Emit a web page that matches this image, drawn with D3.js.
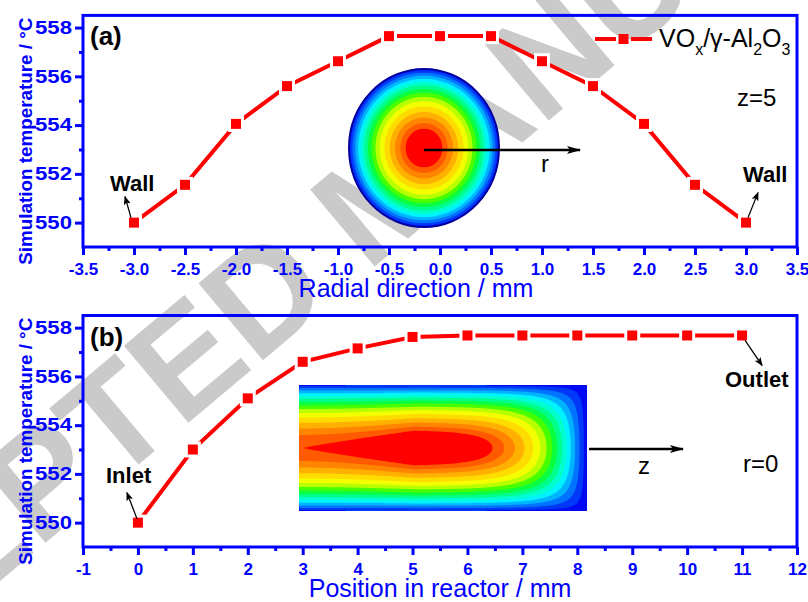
<!DOCTYPE html>
<html>
<head>
<meta charset="utf-8">
<script src="https://cdn.jsdelivr.net/npm/d3@7"></script>
<style>
  body { margin: 0; background: #fff; }
  svg { display: block; font-family: Arial, "Liberation Sans", sans-serif; }
</style>
</head>
<body>
<div id="chart"></div>
<script>
// data
var radialPos = [-3, -2.5, -2, -1.5, -1, -0.5, 0, 0.5, 1, 1.5, 2, 2.5, 3];
var radialTemp = [550.0, 551.55, 554.05, 555.6, 556.62, 557.65, 557.65, 557.65, 556.62, 555.6, 554.05, 551.55, 550.0];
var axialPos = [0, 1, 2, 3, 4, 5, 6, 7, 8, 9, 10, 11];
var axialTemp = [550.0, 553.0, 555.1, 556.6, 557.15, 557.62, 557.68, 557.68, 557.68, 557.68, 557.68, 557.68];

var tempTicks = [550, 552, 554, 556, 558];
var tempMinor = [551, 553, 555, 557];
var radialTicks = [-3.5, -3, -2.5, -2, -1.5, -1, -0.5, 0, 0.5, 1, 1.5, 2, 2.5, 3, 3.5];
var radialMinor = [-3.25, -2.75, -2.25, -1.75, -1.25, -0.75, -0.25, 0.25, 0.75, 1.25, 1.75, 2.25, 2.75, 3.25];
var axialTicks = [-1, 0, 1, 2, 3, 4, 5, 6, 7, 8, 9, 10, 11, 12];
var axialMinor = [-0.5, 0.5, 1.5, 2.5, 3.5, 4.5, 5.5, 6.5, 7.5, 8.5, 9.5, 10.5, 11.5];

// contour levels for the temperature-field insets
var fieldLevels = [0.03, 0.09, 0.16, 0.23, 0.3, 0.37, 0.44, 0.51, 0.58, 0.65, 0.72, 0.79, 0.85, 0.9, 0.94];

var blue = "#0000ff", red = "#ff0000";
var W = 808, H = 602;

var svg = d3.select("#chart").append("svg")
    .attr("width", W)
    .attr("height", H);

svg.append("rect").attr("width", W).attr("height", H).attr("fill", "#fff");

// arrow heads
var defs = svg.append("defs");
defs.append("marker").attr("id", "bigHead")
    .attr("viewBox", "0 0 14 10").attr("refX", 13).attr("refY", 5)
    .attr("markerWidth", 14).attr("markerHeight", 10)
    .attr("markerUnits", "userSpaceOnUse").attr("orient", "auto")
    .append("path").attr("d", "M0,1 L14,5 L0,9 L3,5 Z").attr("fill", "#000");
defs.append("marker").attr("id", "smallHead")
    .attr("viewBox", "0 0 9 7").attr("refX", 8).attr("refY", 3.5)
    .attr("markerWidth", 9).attr("markerHeight", 7)
    .attr("markerUnits", "userSpaceOnUse").attr("orient", "auto")
    .append("path").attr("d", "M0,0 L9,3.5 L0,7 L2,3.5 Z").attr("fill", "#000");

// watermark (behind everything)
svg.append("text")
    .attr("transform", "translate(417,231) rotate(-40)")
    .attr("text-anchor", "middle")
    .attr("font-size", 146)
    .attr("font-weight", "bold")
    .attr("fill", "#cacaca")
    .text("ACCEPTED MANUSCRIPT");

// jet-like colour ramp for the field insets
var jet = d3.scaleLinear()
    .domain([0, 0.12, 0.28, 0.45, 0.52, 0.62, 0.7, 0.8, 0.88, 0.93, 0.95])
    .range(["#0000f0", "#0070ff", "#00ffff", "#00ff60", "#20ff00", "#c0ff00", "#ffff00", "#ffc000", "#ff8000", "#ff5000", "#ff0000"]);

function drawPanel(cfg) {
    var x = d3.scaleLinear().domain(cfg.xDomain).range([83, 797]);
    var y = d3.scaleLinear().domain([549, 558.5]).range([cfg.bottom, cfg.top]);
    var g = svg.append("g");

    // axes
    var yAx = g.append("g").attr("transform", "translate(83,0)")
        .call(d3.axisLeft(y).tickValues(tempTicks).tickSize(8).tickPadding(3));
    g.append("g").attr("transform", "translate(83,0)")
        .call(d3.axisLeft(y).tickValues(tempMinor).tickSize(4).tickFormat(""));
    var xAx = g.append("g").attr("transform", "translate(0," + cfg.bottom + ")")
        .call(d3.axisBottom(x).tickValues(cfg.xTicks).tickSize(8).tickPadding(8).tickFormat(cfg.xFormat));
    g.append("g").attr("transform", "translate(0," + cfg.bottom + ")")
        .call(d3.axisBottom(x).tickValues(cfg.xMinor).tickSize(4).tickFormat(""));

    g.selectAll(".domain").remove();
    g.selectAll(".tick line").attr("stroke", blue).attr("stroke-width", 3);
    yAx.selectAll("text")
        .attr("fill", blue).attr("font-size", 18).attr("font-weight", "bold")
        .attr("font-family", "Arial, 'Liberation Sans', sans-serif")
        .attr("textLength", 37).attr("lengthAdjust", "spacingAndGlyphs");
    xAx.selectAll("text")
        .attr("fill", blue).attr("font-size", 17).attr("font-weight", "bold")
        .attr("font-family", "Arial, 'Liberation Sans', sans-serif");

    g.append("rect")
        .attr("x", 83).attr("y", cfg.top)
        .attr("width", 797 - 83).attr("height", cfg.bottom - cfg.top)
        .attr("fill", "none").attr("stroke", blue).attr("stroke-width", 3);

    // axis titles
    g.append("text")
        .attr("transform", "translate(32," + ((cfg.top + cfg.bottom) / 2 + 10) + ") rotate(-90)")
        .attr("text-anchor", "middle")
        .attr("font-size", 19).attr("font-weight", "bold").attr("fill", blue)
        .attr("textLength", 247).attr("lengthAdjust", "spacingAndGlyphs")
        .text("Simulation temperature / \u00B0C");
    g.append("text")
        .attr("x", cfg.titleX).attr("y", cfg.bottom + 50)
        .attr("text-anchor", "middle")
        .attr("font-size", 25).attr("fill", blue)
        .text(cfg.title);

    g.append("text")
        .attr("x", 90).attr("y", cfg.top + 30)
        .attr("font-size", 26).attr("font-weight", "bold")
        .text(cfg.label);

    return {g: g, x: x, y: y};
}

function drawSeries(p, xs, ys) {
    var pts = xs.map(function(d, i) { return [p.x(d), p.y(ys[i])]; });
    p.g.append("path")
        .attr("d", d3.line()(pts))
        .attr("fill", "none").attr("stroke", red).attr("stroke-width", 4);
    p.g.selectAll(null).data(pts).enter().append("rect")
        .attr("x", function(d) { return d[0] - 8; })
        .attr("y", function(d) { return d[1] - 8; })
        .attr("width", 16).attr("height", 16).attr("fill", "#fff");
    p.g.selectAll(null).data(pts).enter().append("rect")
        .attr("x", function(d) { return d[0] - 5; })
        .attr("y", function(d) { return d[1] - 5; })
        .attr("width", 10).attr("height", 10).attr("fill", red);
}

function note(p, txt, tx, ty, px, py, ax, ay) {
    p.g.append("line")
        .attr("x1", px).attr("y1", py).attr("x2", ax).attr("y2", ay)
        .attr("stroke", "#000").attr("stroke-width", 1.3)
        .attr("marker-end", "url(#smallHead)");
    p.g.append("text").attr("x", tx).attr("y", ty)
        .attr("font-size", 22).attr("font-weight", "bold").text(txt);
}

// ---- panel (a): radial profile ----
var pa = drawPanel({
    top: 15.4, bottom: 247, xDomain: [-3.5, 3.5],
    xTicks: radialTicks, xMinor: radialMinor,
    xFormat: function(d) { return d.toFixed(1); },
    title: "Radial direction / mm", titleX: 416, label: "(a)"
});

// circular cross-section inset
var cx = 424, cy = 148, rx = 75, ry = 79;
var disc = pa.g.append("g");
disc.append("ellipse").attr("cx", cx).attr("cy", cy).attr("rx", rx).attr("ry", ry)
    .attr("fill", jet(0.01)).attr("stroke", "#0000a0").attr("stroke-width", 2);
fieldLevels.forEach(function(lv, i) {
    var next = i < fieldLevels.length - 1 ? fieldLevels[i + 1] : 1;
    var r = Math.sqrt(1 - lv);
    disc.append("ellipse").attr("cx", cx).attr("cy", cy)
        .attr("rx", rx * r).attr("ry", ry * r)
        .attr("fill", jet((lv + next) / 2));
});
pa.g.append("line")
    .attr("x1", cx).attr("y1", cy + 2).attr("x2", 580).attr("y2", cy + 2)
    .attr("stroke", "#000").attr("stroke-width", 2.5)
    .attr("marker-end", "url(#bigHead)");
pa.g.append("text").attr("x", 541).attr("y", 172).attr("font-size", 24).text("r");
pa.g.append("text").attr("x", 737).attr("y", 106).attr("font-size", 24).text("z=5");

drawSeries(pa, radialPos, radialTemp);
note(pa, "Wall", 110, 191, pa.x(-3) - 3, pa.y(550) - 5, pa.x(-3) - 9, pa.y(550) - 26);
note(pa, "Wall", 743, 182, pa.x(3) + 2, pa.y(550) - 5, pa.x(3) + 12, pa.y(550) - 30);

// legend
var lg = pa.g.append("g");
lg.append("line").attr("x1", 595).attr("x2", 616).attr("y1", 39).attr("y2", 39)
    .attr("stroke", red).attr("stroke-width", 4);
lg.append("line").attr("x1", 631).attr("x2", 652).attr("y1", 39).attr("y2", 39)
    .attr("stroke", red).attr("stroke-width", 4);
lg.append("rect").attr("x", 618.5).attr("y", 34).attr("width", 10).attr("height", 10).attr("fill", red);
var lt = lg.append("text").attr("x", 659).attr("y", 47).attr("font-size", 25);
lt.append("tspan").text("VO");
lt.append("tspan").attr("font-size", 16).attr("dy", 8).text("x");
lt.append("tspan").attr("dy", -8).text("/\u03B3-Al");
lt.append("tspan").attr("font-size", 16).attr("dy", 8).text("2");
lt.append("tspan").attr("dy", -8).text("O");
lt.append("tspan").attr("font-size", 16).attr("dy", 8).text("3");

// ---- panel (b): axial profile ----
var pb = drawPanel({
    top: 315.5, bottom: 547, xDomain: [-1, 12],
    xTicks: axialTicks, xMinor: axialMinor,
    xFormat: function(d) { return String(d); },
    title: "Position in reactor / mm", titleX: 440, label: "(b)"
});

// longitudinal section inset, contoured field
var bx0 = 299, by0 = 385, bw = 288, bh = 126;
var nx = 144, ny = 63, vals = new Array(nx * ny);
for (var j = 0; j < ny; j++) {
    for (var i = 0; i < nx; i++) {
        var u = (i + 0.5) / nx, v = ((j + 0.5) / ny) * 2 - 1;
        var w = 1 - u;
        var radial = 1 - v * v;
        var wall = 1 - Math.exp(-Math.pow(w / 0.16, 1.3));
        var dev = u < 0.4 ? 0.94 + 0.08 * Math.pow(u / 0.4, 2) : 1.02;
        vals[j * nx + i] = radial * wall * dev;
    }
}
var bands = d3.contours().size([nx, ny]).thresholds(fieldLevels)(vals);
var proj = d3.geoTransform({
    point: function(px, py) { this.stream.point(bx0 + px * bw / nx, by0 + py * bh / ny); }
});
defs.append("clipPath").attr("id", "secClip")
    .append("rect").attr("x", bx0).attr("y", by0).attr("width", bw).attr("height", bh);
var sec = pb.g.append("g").attr("clip-path", "url(#secClip)");
sec.append("rect").attr("x", bx0).attr("y", by0).attr("width", bw).attr("height", bh)
    .attr("fill", jet(0.01));
sec.selectAll("path").data(bands).enter().append("path")
    .attr("d", d3.geoPath(proj))
    .attr("fill", function(d, k) {
        var next = k < fieldLevels.length - 1 ? fieldLevels[k + 1] : 1;
        return jet((d.value + next) / 2);
    });

pb.g.append("line")
    .attr("x1", 589).attr("y1", 449).attr("x2", 683).attr("y2", 449)
    .attr("stroke", "#000").attr("stroke-width", 2.5)
    .attr("marker-end", "url(#bigHead)");
pb.g.append("text").attr("x", 638).attr("y", 474).attr("font-size", 24).text("z");
pb.g.append("text").attr("x", 743).attr("y", 472).attr("font-size", 24).text("r=0");

drawSeries(pb, axialPos, axialTemp);
note(pb, "Inlet", 106, 483, pb.x(0) - 1, pb.y(550) - 4, pb.x(0) - 11, pb.y(550) - 30);
note(pb, "Outlet", 725, 387, pb.x(11) + 3, pb.y(557.68) + 5, pb.x(11) + 20, pb.y(557.68) + 30);
</script>
</body>
</html>
